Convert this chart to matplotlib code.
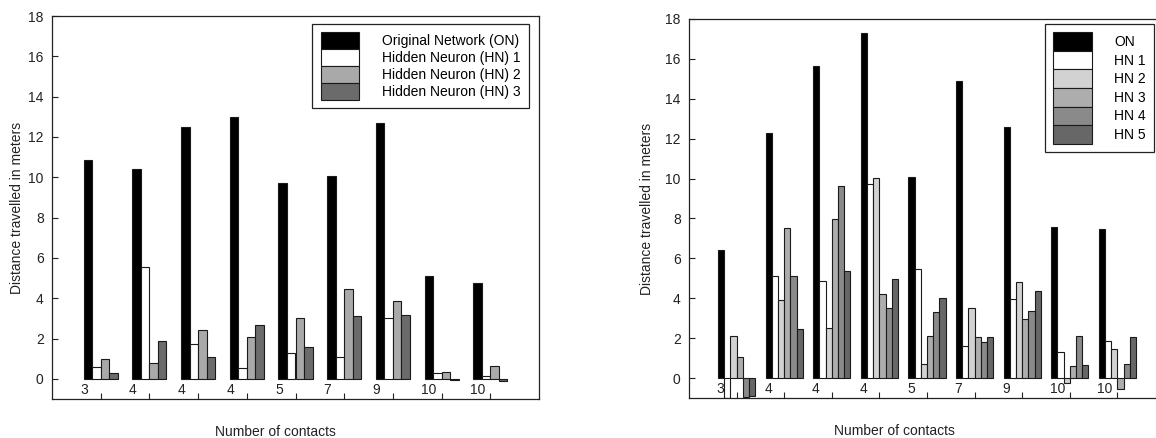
import matplotlib
matplotlib.use("Agg")
import matplotlib.pyplot as plt
import numpy as np

plt.rcParams["font.family"] = ["Liberation Sans", "DejaVu Sans"]
plt.rcParams["font.size"] = 10

# group labels (number of contacts), same for both panels
contacts = ["3", "4", "4", "4", "5", "7", "9", "10", "10"]

# left panel: original network + 3 hidden neurons
left_labels = ["Original Network (ON)", "Hidden Neuron (HN) 1",
               "Hidden Neuron (HN) 2", "Hidden Neuron (HN) 3"]
left_on = [10.86, 10.41, 12.49, 12.98, 9.73, 10.08, 12.70, 5.09, 4.76]
left_hn1 = [0.58, 5.54, 1.74, 0.55, 1.29, 1.06, 3.02, 0.27, 0.12]
left_hn2 = [1.00, 0.78, 2.40, 2.06, 3.02, 4.48, 3.86, 0.35, 0.66]
left_hn3 = [0.28, 1.90, 1.08, 2.69, 1.56, 3.13, 3.18, -0.08, -0.13]

# right panel: original network + 5 hidden neurons
right_labels = ["ON", "HN 1", "HN 2", "HN 3", "HN 4", "HN 5"]
right_on = [6.43, 12.27, 15.66, 17.28, 10.08, 14.87, 12.59, 7.58, 7.46]
right_hn1 = [-1.00, 5.13, 4.89, 9.73, 5.46, 1.62, 3.96, 1.29, 1.84]
right_hn2 = [2.12, 3.89, 2.50, 10.02, 0.72, 3.52, 4.84, -0.23, 1.45]
right_hn3 = [1.05, 7.51, 7.96, 4.22, 2.12, 2.05, 2.95, 0.62, -0.55]
right_hn4 = [-0.95, 5.13, 9.63, 3.52, 3.29, 1.79, 3.34, 2.12, 0.70]
right_hn5 = [-0.90, 2.45, 5.39, 4.96, 4.01, 2.05, 4.34, 0.67, 2.08]

left_colors = ["#000000", "#ffffff", "#a9a9a9", "#6b6b6b"]
right_colors = ["#000000", "#ffffff", "#d2d2d2", "#adadad", "#8a8a8a", "#676767"]


def draw_panel(ax, series, labels, colors, bar_w, legend_anchor, handleheight):
    x = np.arange(1, len(contacts) + 1)
    n = len(series)
    for i, (vals, lab, col) in enumerate(zip(series, labels, colors)):
        off = (i - (n - 1) / 2) * bar_w
        ax.bar(x + off, vals, width=bar_w, color=col, edgecolor="#1a1a1a",
               linewidth=0.8, label=lab, zorder=2)

    ax.set_xlim(0, 10)
    ax.set_ylim(-1, 18)
    ax.set_yticks(range(0, 19, 2))
    ax.set_xticks(x)
    ax.set_xticklabels([])
    ax.tick_params(axis="both", direction="in", length=4, width=0.8,
                   labelsize=10, colors="#222222")
    ax.tick_params(axis="y", pad=6)
    for sp in ax.spines.values():
        sp.set_linewidth(0.9)
        sp.set_color("#222222")

    # group labels sit inside the axes, just below zero, left of each tick
    for xi, lab in zip(x, contacts):
        ax.text(xi - 0.42, -0.55, lab, ha="left", va="center", fontsize=10,
                color="#222222", zorder=5)

    leg = ax.legend(loc="upper right", bbox_to_anchor=legend_anchor,
                    borderaxespad=0, fancybox=False, framealpha=1,
                    edgecolor="#222222", labelspacing=0, handlelength=2.8,
                    handleheight=handleheight, handletextpad=1.6,
                    borderpad=0.6, fontsize=10)
    leg.get_frame().set_linewidth(0.9)


fig = plt.figure(figsize=(11.56, 4.38), dpi=100, facecolor="white")

ax1 = fig.add_axes([52 / 1156, 39 / 438, 487 / 1156, 383 / 438])
draw_panel(ax1, [left_on, left_hn1, left_hn2, left_hn3], left_labels,
           left_colors, 0.175, (0.979, 0.979), 1.5)

ax2 = fig.add_axes([689 / 1156, 40 / 438, 476 / 1156, 379 / 438])
draw_panel(ax2, [right_on, right_hn1, right_hn2, right_hn3, right_hn4, right_hn5],
           right_labels, right_colors, 0.13, (0.977, 0.987), 1.68)

fig.text(275 / 1156, 1 - 432 / 438, "Number of contacts", ha="center",
         va="center", fontsize=10, color="#222222")
fig.text(894 / 1156, 1 - 431 / 438, "Number of contacts", ha="center",
         va="center", fontsize=10, color="#222222")
fig.text(17 / 1156, 1 - 208 / 438, "Distance travelled in meters", ha="center",
         va="center", rotation=90, fontsize=10, color="#222222")
fig.text(647 / 1156, 1 - 209 / 438, "Distance travelled in meters", ha="center",
         va="center", rotation=90, fontsize=10, color="#222222")

fig.savefig("out.png", dpi=100, facecolor="white")
